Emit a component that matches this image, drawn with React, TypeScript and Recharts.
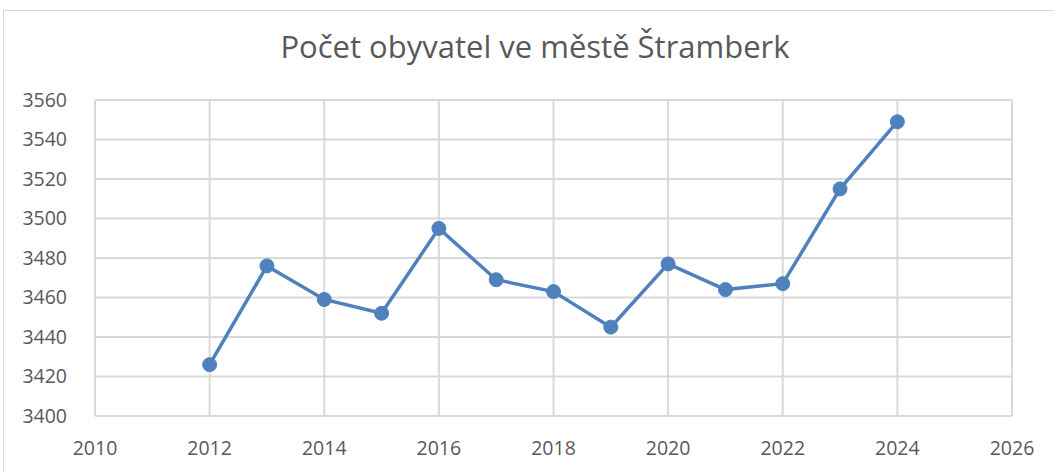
import React from 'react';
import { LineChart, Line, XAxis, YAxis, CartesianGrid } from 'recharts';

const years = [2012, 2013, 2014, 2015, 2016, 2017, 2018, 2019, 2020, 2021, 2022, 2023, 2024];
const population = [3426, 3476, 3459, 3452, 3495, 3469, 3463, 3445, 3477, 3464, 3467, 3515, 3549];
const xTicks = [2010, 2012, 2014, 2016, 2018, 2020, 2022, 2024, 2026];
const yTicks = [3400, 3420, 3440, 3460, 3480, 3500, 3520, 3540, 3560];

const TITLE = 'Počet obyvatel ve městě Štramberk';
const FONT = '"Open Sans", "Liberation Sans", sans-serif';
const GRID = '#d9d9d9';
const TEXT = '#595959';
const LINE = '#4f81bd';

const data = years.map((year, i) => ({ year, value: population[i] }));

const App: React.FC = () => (
  <div style={{ position: 'absolute', left: 0, top: 0, width: 1054, height: 472, background: '#fff', overflow: 'hidden', fontFamily: FONT }}>
    <div
      style={{
        position: 'absolute',
        left: 3,
        top: 10,
        width: 1100,
        height: 500,
        border: `1px solid ${GRID}`,
        boxSizing: 'border-box',
      }}
    />
    <div
      style={{
        position: 'absolute',
        left: 0,
        width: 1070,
        top: 25,
        textAlign: 'center',
        fontSize: 31,
        color: TEXT,
      }}
    >
      {TITLE}
    </div>
    <div style={{ position: 'absolute', left: 0, top: 0 }}>
      <LineChart width={1054} height={472} data={data} margin={{ top: 100, right: 42, left: 15, bottom: 16 }}>
        <CartesianGrid stroke={GRID} strokeWidth={2} />
        <XAxis
          dataKey="year"
          type="number"
          domain={[2010, 2026]}
          ticks={xTicks}
          interval={0}
          height={40}
          axisLine={{ stroke: GRID, strokeWidth: 2 }}
          tickLine={false}
          tick={{ fontSize: 19.5, fill: TEXT, fontFamily: FONT }}
          tickMargin={19}
        />
        <YAxis
          type="number"
          domain={[3400, 3560]}
          ticks={yTicks}
          interval={0}
          width={80}
          axisLine={{ stroke: GRID, strokeWidth: 2 }}
          tickLine={false}
          tick={{ fontSize: 19.5, fill: TEXT, fontFamily: FONT }}
          tickMargin={22}
        />
        <Line
          dataKey="value"
          stroke={LINE}
          strokeWidth={3.5}
          dot={{ r: 7, fill: LINE, stroke: LINE, strokeWidth: 1 }}
          activeDot={false}
          isAnimationActive={false}
        />
      </LineChart>
    </div>
  </div>
);

export default App;
